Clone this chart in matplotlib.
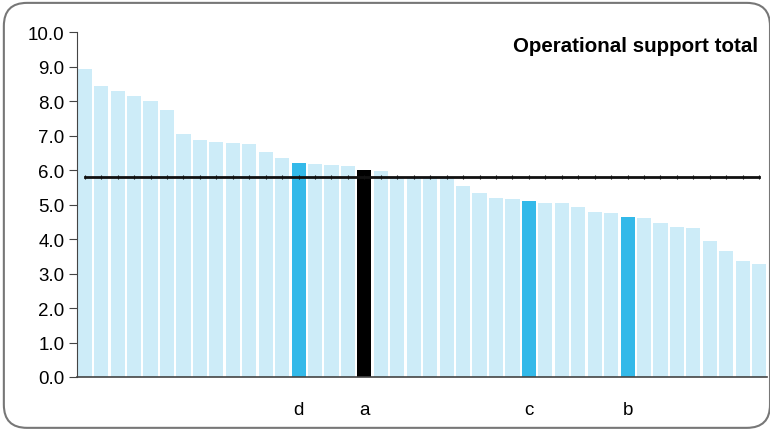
import matplotlib.pyplot as plt
from matplotlib.patches import FancyBboxPatch

plt.rcParams['font.family'] = ['Liberation Sans', 'DejaVu Sans']

# Scores sorted high to low, one bar per unit
scores = [8.92, 8.43, 8.28, 8.14, 7.99, 7.73, 7.04, 6.87, 6.81, 6.78,
          6.75, 6.52, 6.35, 6.20, 6.17, 6.14, 6.11, 6.00, 5.97, 5.80,
          5.79, 5.78, 5.77, 5.54, 5.33, 5.19, 5.16, 5.10, 5.04, 5.04,
          4.93, 4.78, 4.75, 4.64, 4.61, 4.46, 4.35, 4.32, 3.94, 3.65,
          3.37, 3.28]
# Highlighted units: position in the sorted list -> label
highlights = {13: 'd', 17: 'a', 27: 'c', 33: 'b'}
own_unit = 17
average = 5.81

light = '#CDECF8'
mid = '#33B9E9'

colors = []
for i in range(len(scores)):
    if i == own_unit:
        colors.append('#000000')
    elif i in highlights:
        colors.append(mid)
    else:
        colors.append(light)

fig = plt.figure(figsize=(7.7, 4.31), dpi=100)
ax = fig.add_axes([0.1, 0.123, 0.896, 0.8])

x = list(range(len(scores)))
ax.bar(x, scores, width=0.86, color=colors, zorder=2)
ax.plot(x, [average] * len(x), color='#111111', lw=2, marker='|', ms=3,
        mew=0.8, zorder=3)

ax.set_xlim(-0.47, len(scores) - 0.53)
ax.set_ylim(0, 10)
ax.set_yticks([i for i in range(11)])
ax.set_yticklabels([f'{i:.1f}' for i in range(11)], fontsize=13.5)
ax.set_xticks(list(highlights.keys()))
ax.set_xticklabels(list(highlights.values()), fontsize=13.5)
ax.tick_params(axis='x', length=0, pad=17)
ax.tick_params(axis='y', length=6, color='#444444', pad=3)

for side in ['top', 'right']:
    ax.spines[side].set_visible(False)
ax.spines['left'].set_color('#444444')
ax.spines['bottom'].set_color('#444444')
ax.spines['bottom'].set_linewidth(1.2)

ax.text(758 / 770, 1 - 46 / 431, 'Operational support total',
        transform=fig.transFigure, ha='right', va='center',
        fontsize=14.8, fontweight='bold')

# rounded frame around the whole chart
frame = FancyBboxPatch((0.005, 0.005), 0.995, 0.986,
                       boxstyle='round,pad=0,rounding_size=0.03',
                       transform=fig.transFigure, fill=False,
                       ec='#777777', lw=1.5, mutation_aspect=770 / 431)
fig.patches.append(frame)

fig.savefig('out.png', dpi=100)
